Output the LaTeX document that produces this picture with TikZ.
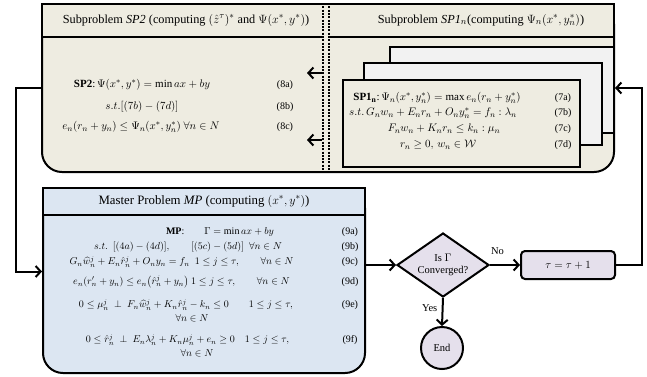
\documentclass[tikz,border=0pt]{standalone}
\usepackage{amsmath,amssymb}
\usepackage{fontspec}
\setmainfont{Liberation Serif}
\usetikzlibrary{arrows.meta,positioning,calc,shapes.geometric}
\definecolor{paper}{RGB}{238,236,225}
\definecolor{masterblue}{RGB}{220,230,242}
\definecolor{lavender}{RGB}{229,224,236}
\definecolor{sheet}{RGB}{242,242,242}

\begin{document}
\begin{tikzpicture}[x=1pt, y=1pt,
    boxline/.style={draw=black, line width=2pt},
    panel/.style={boxline, rounded corners=20pt, inner sep=0pt},
    hdr/.style={boxline, inner sep=0pt},
    sheetbox/.style={boxline, fill=sheet, inner sep=0pt},
    ttl/.style={font=\fontsize{12.3}{14}\selectfont, inner sep=0pt},
    eq/.style={font=\fontsize{10}{12}\selectfont, inner sep=0pt},
    tag/.style={font=\fontsize{10}{12}\selectfont, inner sep=0pt},
    conn/.style={line width=2pt, -{Straight Barb[length=5pt, width=11pt]}},
    divline/.style={line width=2pt, dash pattern=on 2pt off 1.3pt},
    flow/.style={boxline, fill=lavender, font=\fontsize{10.5}{12}\selectfont}
]
\useasboundingbox (0,0) rectangle (647,-376);

% Subproblem panel
\node[panel, fill=paper, minimum width=572, minimum height=168] (sp) at (328,-88) {};
\node[hdr, fill=paper, minimum width=572, minimum height=33, anchor=north] (sphdr) at (sp.north) {};
\node[ttl] (sptwo-title) at (186,-20) {Subproblem \textit{SP2} (computing $(\hat{z}^{\tau})^{*}$ and $\Psi(x^{*},y^{*})$)};
\node[ttl] (spone-title) at (481,-20) {Subproblem \textit{SP1}$_n$(computing $\Psi_n(x^{*},y_n^{*})$)};

% Divider between SP2 and SP1
\fill[paper] (323.5,-6) rectangle (327.5,-170);
\draw[divline] (322.5,-3) -- (322.5,-173);
\draw[divline] (328.5,-3) -- (328.5,-173);

% SP2
\node[eq, font=\fontsize{11}{13}\selectfont] (sptwo-a) at (142,-85) {\textbf{SP2}:$\,\Psi(x^{*},y^{*}) = \min ax + by$};
\node[eq, font=\fontsize{11}{13}\selectfont] (sptwo-b) at (142,-107) {$s.t.[(7b)-(7d)]$};
\node[eq, font=\fontsize{11}{13}\selectfont] (sptwo-c) at (141,-127) {$e_n(r_n + y_n) \le \Psi_n(x^{*},y_n^{*})\ \forall n \in N$};
\node[tag] (tag-8a) at (285,-85) {(8a)};
\node[tag] (tag-8b) at (285,-107) {(8b)};
\node[tag] (tag-8c) at (285,-127) {(8c)};

% SP1 stack
\node[sheetbox, minimum width=224, minimum height=86] (sheet-back) at (502,-90) {};
\node[sheetbox, minimum width=238, minimum height=82] (sheet-mid) at (483,-104) {};
\node[boxline, fill=paper, inner sep=0pt, minimum width=237, minimum height=87] (spone) at (461.5,-123.5) {};
\node[eq, font=\fontsize{11}{12}\selectfont] (spone-a) at (437,-98) {\textbf{SP1}$_{\mathbf{n}}$:$\,\Psi_n(x^{*},y_n^{*}) = \max e_n(r_n + y_n^{*})$};
\node[eq, font=\fontsize{11}{12}\selectfont] (spone-b) at (433,-113) {$s.t.\,G_n w_n + E_n r_n + O_n y_n^{*} = f_n : \lambda_n$};
\node[eq, font=\fontsize{11}{12}\selectfont] (spone-c) at (444,-129) {$F_n w_n + K_n r_n \le k_n : \mu_n$};
\node[eq, font=\fontsize{11}{12}\selectfont] (spone-d) at (438,-145) {$r_n \ge 0,\, w_n \in \mathcal{W}$};
\node[tag] (tag-7a) at (563,-98) {(7a)};
\node[tag] (tag-7b) at (563,-113) {(7b)};
\node[tag] (tag-7c) at (563,-129) {(7c)};
\node[tag] (tag-7d) at (563,-145) {(7d)};

% Arrows out of the divider
\coordinate (div-a) at (322,-73);
\coordinate (gap-a) at (307,-73);
\coordinate (div-b) at (322,-140);
\coordinate (gap-b) at (307,-140);
\draw[conn] (div-a) -- (gap-a);
\draw[conn] (div-b) -- (gap-b);

% Master problem panel
\node[panel, fill=masterblue, minimum width=322, minimum height=185] (mp) at (204,-280.5) {};
\node[hdr, fill=masterblue, minimum width=322, minimum height=27, anchor=north] (mphdr) at (mp.north) {};
\node[ttl, font=\fontsize{12.8}{14}\selectfont] (mp-title) at (204,-201) {Master Problem \textit{MP} (computing $(x^{*},y^{*})$)};
\node[eq] (mp-a) at (220,-232) {\textbf{MP}:\hspace{2em}$\Gamma = \min ax + by$};
\node[eq] (mp-b) at (188,-247) {$s.t.\ \ [(4a)-(4d)],\qquad[(5c)-(5d)]\ \ \forall n\in N$};
\node[eq] (mp-c) at (181.5,-262) {$G_n\widehat{w}_n^j + E_n\hat{r}_n^j + O_n y_n = f_n\ \ 1\le j\le\tau,\qquad \forall n\in N$};
\node[eq] (mp-d) at (181.5,-282) {$e_n(r_n' + y_n) \le e_n\big(\hat{r}_n^j + y_n\big)\ 1\le j\le\tau,\qquad\forall n\in N$};
\node[eq] (mp-e) at (186,-305) {$0\le\mu_n^j\ \perp\ F_n\widehat{w}_n^j + K_n\hat{r}_n^j - k_n \le 0\qquad 1\le j\le\tau,$};
\node[eq] (mp-e2) at (192,-318) {$\forall n\in N$};
\node[eq] (mp-f) at (187.5,-340) {$0\le\hat{r}_n^j\ \perp\ E_n\lambda_n^j + K_n\mu_n^j + e_n \ge 0\quad 1\le j\le\tau,$};
\node[eq] (mp-f2) at (197,-353) {$\forall n\in N$};
\node[tag] (tag-9a) at (350,-232) {(9a)};
\node[tag] (tag-9b) at (350,-247) {(9b)};
\node[tag] (tag-9c) at (350,-262) {(9c)};
\node[tag] (tag-9d) at (350,-282) {(9d)};
\node[tag] (tag-9e) at (350,-305) {(9e)};
\node[tag] (tag-9f) at (350,-340) {(9f)};

% Convergence check
\node[flow, diamond, aspect=1.44, minimum width=92, minimum height=64, inner sep=0pt, align=center] (dia) at (443,-265) {Is $\Gamma$\\Converged?};
\node[flow, rounded corners=4pt, minimum width=94, minimum height=28] (tau) at (568,-265) {$\tau = \tau + 1$};
\node[flow, circle, minimum size=42, inner sep=0pt] (stop) at (442,-348) {End};

% Connectors
\draw[conn] (mp.east |- dia.west) -- (dia.west);
\draw[conn] (dia.east) -- (tau.west) node[pos=0.25, above=6pt, font=\fontsize{10.5}{12}\selectfont] (no-lbl) {No};
\draw[conn] (dia.south) -- (stop.north) node[pos=0.35, left=1pt, font=\fontsize{10.5}{12}\selectfont] (yes-lbl) {Yes};
\draw[conn] (tau.east) -- ++(26,0) |- (sp.east);
\draw[conn] (sp.west) -- ++(-25,0) |- ($(mp.west)+(0,9)$);
\end{tikzpicture}
\end{document}
